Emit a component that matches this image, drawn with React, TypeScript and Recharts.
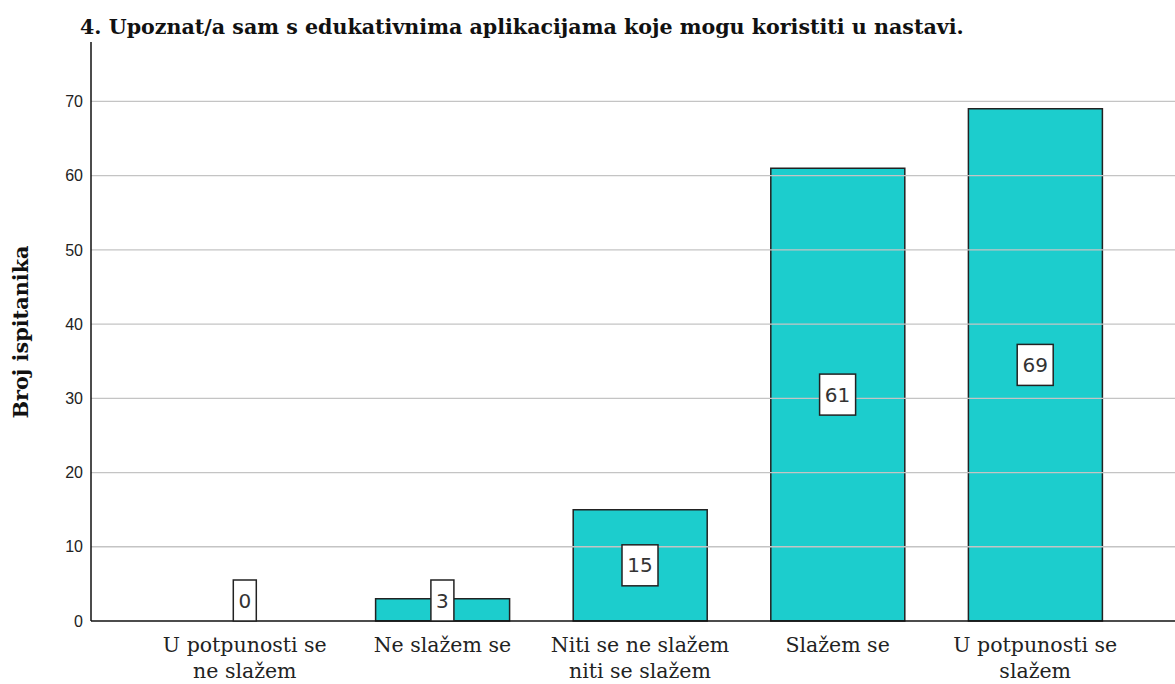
import { ComposedChart, Bar, Scatter, XAxis, YAxis, ReferenceLine, Label } from "recharts";

const categories = [
  "U potpunosti se ne slažem",
  "Ne slažem se",
  "Niti se ne slažem niti se slažem",
  "Slažem se",
  "U potpunosti se slažem",
];
const tickLines = [
  ["U potpunosti se", "ne slažem"],
  ["Ne slažem se"],
  ["Niti se ne slažem", "niti se slažem"],
  ["Slažem se"],
  ["U potpunosti se", "slažem"],
];
const counts = [0, 3, 15, 61, 69];
const yTicks = [0, 10, 20, 30, 40, 50, 60, 70];

const title = "4. Upoznat/a sam s edukativnima aplikacijama koje mogu koristiti u nastavi.";
const yTitle = "Broj ispitanika";

const data = categories.map((name, i) => ({ name, count: counts[i] }));

const BASE_Y = 621;

function CategoryTick(props: any) {
  const { x, y, index } = props;
  const lines = tickLines[index] || [];
  return (
    <g>
      {lines.map((l, i) => (
        <text
          key={i}
          x={x}
          y={y + 23 + i * 26}
          textAnchor="middle"
          fontFamily="'DejaVu Serif', serif"
          fontSize={20.5}
          fill="#222"
        >
          {l}
        </text>
      ))}
    </g>
  );
}

// value box drawn at the middle of the bar, kept above the baseline
function ValueBox(props: any) {
  const { cx, cy, payload } = props;
  const txt = String(payload.count);
  const boxH = 41;
  const boxW = txt.length * 13 + 10;
  let my = BASE_Y - (BASE_Y - cy) / 2;
  if (my > BASE_Y - boxH / 2) my = BASE_Y - boxH / 2;
  return (
    <g>
      <rect x={cx - boxW / 2} y={my - boxH / 2} width={boxW} height={boxH} fill="#fff" stroke="#222" strokeWidth={1.5} />
      <text
        x={cx}
        y={my + 7}
        textAnchor="middle"
        fontFamily="'DejaVu Sans', sans-serif"
        fontSize={20}
        fill="#333"
      >
        {txt}
      </text>
    </g>
  );
}

export default function App() {
  return (
    <div style={{ position: "absolute", left: 0, top: 0, width: 1175, height: 684, background: "#fff" }}>
      <div
        style={{
          position: "absolute",
          left: 80,
          top: 15,
          fontFamily: "'DejaVu Serif', serif",
          fontWeight: "bold",
          fontSize: 20.6,
          color: "#111",
          whiteSpace: "nowrap",
        }}
      >
        {title}
      </div>
      <ComposedChart
        width={1175}
        height={684}
        data={data}
        margin={{ top: 42, right: 0, bottom: 0, left: 0 }}
      >
        {yTicks.slice(1).map((t) => (
          <ReferenceLine key={t} y={t} stroke="#c4c4c4" strokeWidth={1.3} />
        ))}
        <XAxis
          dataKey="name"
          height={63}
          padding={{ left: 55, right: 41 }}
          tickLine={false}
          axisLine={{ stroke: "#111", strokeWidth: 1.5 }}
          tick={<CategoryTick />}
          interval={0}
        />
        <YAxis
          width={91}
          domain={[0, 78]}
          ticks={yTicks}
          tickLine={false}
          axisLine={{ stroke: "#111", strokeWidth: 1.5 }}
          tick={{ fontFamily: "'Liberation Sans', sans-serif", fontSize: 16, fill: "#222" }}
          tickMargin={2}
        >
          <Label
            content={() => (
              <text
                x={0}
                y={0}
                transform="translate(28,332) rotate(-90)"
                textAnchor="middle"
                fontFamily="'DejaVu Serif', serif"
                fontWeight="bold"
                fontSize={20.8}
                fill="#111"
              >
                {yTitle}
              </text>
            )}
          />
        </YAxis>
        <Bar dataKey="count" fill="#1ccdcd" stroke="#222" strokeWidth={1.5} barSize={134} isAnimationActive={false} />
        <Scatter dataKey="count" shape={<ValueBox />} isAnimationActive={false} />
      </ComposedChart>
    </div>
  );
}
